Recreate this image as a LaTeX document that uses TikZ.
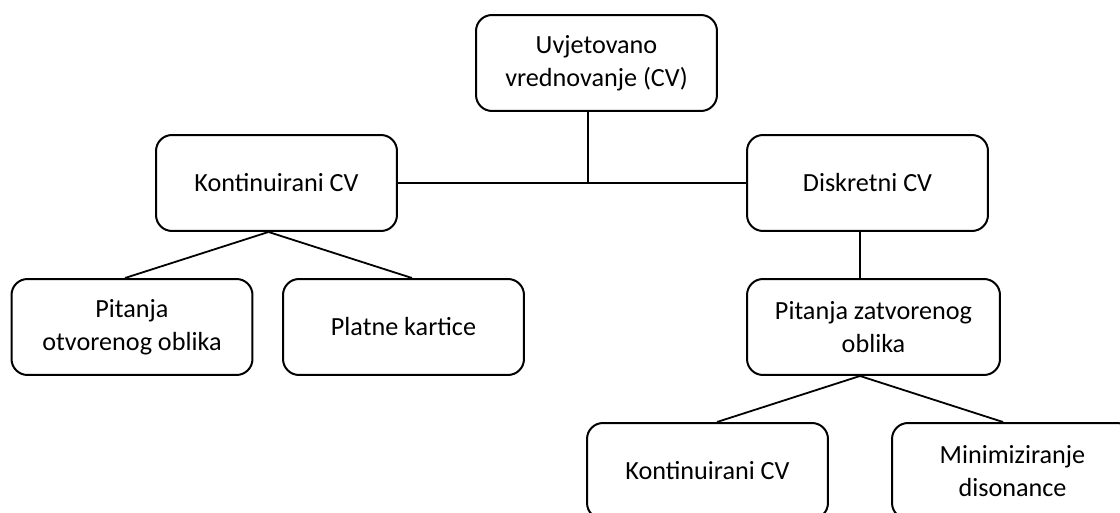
\documentclass[tikz,border=0pt]{standalone}
\usepackage{fontspec}
\setmainfont{Carlito}
\tikzset{
  cvbox/.style={draw, line width=0.04cm, rounded corners=0.32cm, align=center,
    minimum width=4.82cm, minimum height=1.92cm, inner sep=0pt,
    font=\fontsize{14.9}{19}\selectfont},
  cvline/.style={line width=0.036cm}
}
\begin{document}
\begin{tikzpicture}[x=0.02cm, y=-0.02cm]
% page frame
\useasboundingbox (0,0) rectangle (1120,513);
\clip (0,0) rectangle (1120,513);

% Drawing the boxes
\node[cvbox] (uv) at (596.5,63) {Uvjetovano\\vrednovanje (CV)};
\node[cvbox] (kont) at (276.5,183) {Kontinuirani CV};
\node[cvbox] (disk) at (867.5,183) {Diskretni CV};
\node[cvbox] (otv) at (132,327) {Pitanja\\otvorenog oblika};
\node[cvbox] (plat) at (403.5,327) {Platne kartice};
\node[cvbox, minimum width=5.06cm] (zat) at (873.5,327) {Pitanja zatvorenog\\oblika};
\node[cvbox] (kont2) at (707.5,471) {Kontinuirani CV};
\node[cvbox] (mini) at (1012.5,471) {Minimiziranje\\disonance};

% Junction under the top box
\coordinate (hub) at (588,183);

% Drawing connectors
\draw[cvline] (hub |- uv.south) -- (hub);
\draw[cvline] (kont.east) -- (disk.west);
\draw[cvline] ([xshift=-0.16cm]kont.south) -- ([xshift=-0.14cm]otv.north);
\draw[cvline] ([xshift=-0.16cm]kont.south) -- ([xshift=0.17cm]plat.north);
\draw[cvline] ([xshift=-0.15cm]disk.south) -- ([xshift=-0.27cm]zat.north);
\draw[cvline] ([xshift=-0.27cm]zat.south) -- ([xshift=0.19cm]kont2.north);
\draw[cvline] ([xshift=-0.27cm]zat.south) -- ([xshift=-0.19cm]mini.north);
\end{tikzpicture}
\end{document}
